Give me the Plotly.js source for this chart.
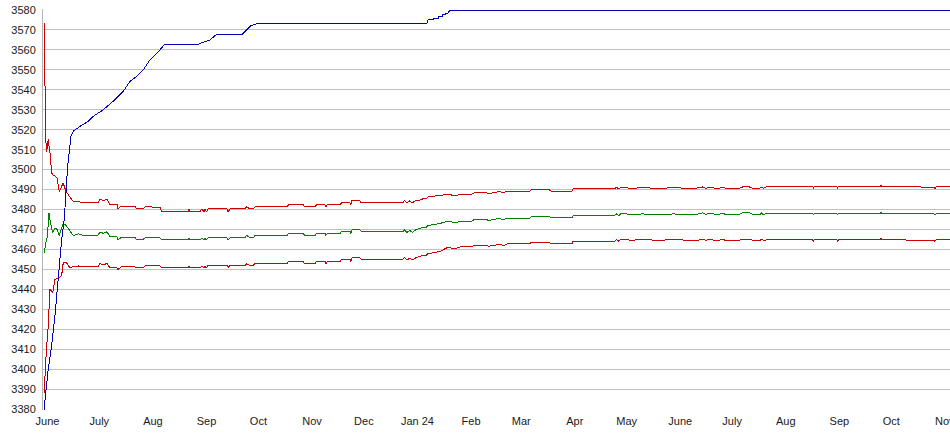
<!DOCTYPE html>
<html>
<head>
<meta charset="utf-8">
<script src="https://cdn.plot.ly/plotly-3.0.1.min.js"></script>
<style>
html,body{margin:0;padding:0;background:#fff;}
#chart{width:950px;height:435px;}
.scatterlayer .js-line{shape-rendering:crispEdges;}
</style>
</head>
<body>
<div id="chart"></div>
<script>
// Shared dates for the three band lines
var bandDates = [
"2023-05-30 02:00","2023-05-30 08:00","2023-05-31 00:00","2023-05-31 13:00","2023-06-01 03:00",
"2023-06-01 11:00","2023-06-01 21:00","2023-06-02 11:00","2023-06-03 10:00","2023-06-04 00:00",
"2023-06-05 08:00","2023-06-06 12:00","2023-06-07 20:00","2023-06-09 05:00","2023-06-10 03:00",
"2023-06-11 17:00","2023-06-14 00:00","2023-06-15 22:00","2023-06-18 19:00","2023-06-21 17:00",
"2023-06-30 05:00","2023-07-01 09:00","2023-07-03 07:00","2023-07-05 10:00","2023-07-07 03:00",
"2023-07-11 05:00","2023-07-11 19:00","2023-07-13 22:00","2023-07-21 14:00","2023-07-22 14:00",
"2023-07-26 05:00","2023-07-27 10:00","2023-08-05 00:00","2023-08-06 05:00","2023-08-21 07:00",
"2023-08-21 19:00","2023-08-22 10:00","2023-08-28 05:00","2023-08-29 09:00","2023-08-30 12:00",
"2023-08-31 03:00","2023-08-31 20:00","2023-09-02 00:00","2023-09-12 19:00","2023-09-13 12:00",
"2023-09-14 14:00","2023-09-23 05:00","2023-09-24 05:00","2023-09-26 02:00","2023-09-28 00:00",
"2023-09-29 00:00","2023-10-17 12:00","2023-10-18 12:00","2023-10-26 19:00","2023-10-27 19:00",
"2023-11-02 17:00","2023-11-03 17:00","2023-11-08 12:00","2023-11-09 00:00","2023-11-10 00:00",
"2023-11-17 05:00","2023-11-18 05:00","2023-11-23 00:00","2023-11-23 12:00","2023-11-24 03:00",
"2023-11-28 17:00","2023-11-29 12:00","2023-12-23 14:00","2023-12-24 12:00","2023-12-26 00:00",
"2023-12-27 12:00","2023-12-29 00:00","2023-12-31 00:00","2024-01-02 00:00","2024-01-04 00:00",
"2024-01-06 00:00","2024-01-07 00:00","2024-01-14 00:00","2024-01-18 00:00","2024-01-20 00:00",
"2024-01-22 00:00","2024-01-26 00:00","2024-02-01 00:00","2024-02-03 00:00","2024-02-10 00:00",
"2024-02-11 00:00","2024-02-14 00:00","2024-02-17 00:00","2024-02-20 00:00","2024-02-22 00:00",
"2024-03-06 00:00","2024-03-07 00:00","2024-03-17 00:00","2024-03-18 12:00","2024-03-30 10:00",
"2024-03-31 00:00","2024-04-24 00:00","2024-04-25 00:00","2024-04-26 12:00","2024-04-27 12:00",
"2024-05-01 00:00","2024-05-03 00:00","2024-05-10 00:00","2024-05-20 00:00","2024-05-28 00:00",
"2024-06-05 00:00","2024-06-12 00:00","2024-06-14 00:00","2024-06-16 00:00","2024-06-18 00:00",
"2024-06-20 00:00","2024-06-23 00:00","2024-06-26 00:00","2024-06-27 00:00","2024-07-05 00:00",
"2024-07-07 00:00","2024-07-11 00:00","2024-07-13 00:00","2024-07-17 00:00","2024-07-18 00:00",
"2024-07-19 00:00","2024-07-21 00:00","2024-08-16 12:00","2024-08-17 00:00","2024-08-17 12:00",
"2024-08-30 12:00","2024-08-31 00:00","2024-08-31 12:00","2024-09-24 12:00","2024-09-25 02:00",
"2024-09-25 16:00","2024-10-03 00:00","2024-10-03 12:00","2024-10-25 18:00","2024-10-26 07:00",
"2024-10-27 00:00","2024-11-04 00:00"
];

var upperRed = [
3573.5,3545,3515,3509,3514, 3515.5,3512,3508.5,3498.3,3497.5,
3496.7,3496,3489,3491.5,3493.3, 3489,3486,3484,3484,3483.3,
3483.3,3485.3,3484.3,3485.3,3482.5, 3482.5,3480.5,3481.7,3481.7,3480.3,
3480.3,3481.3,3481.2,3478.8,3478.8, 3480.3,3478.8,3478.8,3480.3,3478.8,
3480.3,3478.8,3480.3,3480.3,3478.8, 3480.3,3480.3,3481.3,3480.3,3480.3,
3481.3,3481.3,3482.5,3482.5,3481.3, 3481.3,3482.5,3482.5,3481.3,3482.5,
3482.5,3483.3,3483.3,3482.5,3484.5, 3484.5,3483.3,3483.5,3484.5,3483.3,
3484.3,3483.3,3484.5,3484.5,3485.3, 3485.3,3486.3,3487.2,3487.5,3487.5,
3486.8,3487.5,3487.5,3488.3,3488.3, 3487.8,3488.3,3489,3488.5,3489.2,
3489.2,3490,3490,3489.2,3489.2, 3490.3,3490.3,3491.2,3490.3,3491,
3491,3490.5,3491,3490.5,3491, 3490.6,3490.8,3491.3,3490.6,3491.2,
3490.8,3490.6,3491.2,3490.6,3490.6, 3491.3,3491.3,3490.6,3490.6,3491.2,
3490.6,3491.5,3491.5,3490.8,3491.5, 3491.5,3490.8,3491.5,3491.5,3492.3,
3491.5,3491.5,3491.2,3491.2,3490.5, 3491.5,3491.5
];

var greenMid = [
3458,3460,3463,3465,3467.5, 3474,3478.3,3475,3470,3468.3,
3470.8,3470,3467,3470,3473, 3472,3469,3467,3467.8,3467,
3467,3468.8,3468,3468.8,3466.3, 3466.3,3465,3466,3466,3465,
3465,3465.8,3465.8,3464.8,3464.8, 3465.8,3464.8,3464.8,3465.8,3464.8,
3465.8,3464.8,3465.8,3465.8,3464.8, 3465.8,3465.8,3467,3465.8,3465.8,
3467,3467,3468,3468,3467, 3467,3468,3468,3467,3468,
3468,3469,3469,3468,3469.8, 3469.8,3469,3468.8,3469.8,3468.5,
3469.5,3468.5,3469.8,3470.3,3471, 3471,3472,3473,3474,3474,
3473.3,3474,3474,3475,3475, 3474.5,3475,3475.5,3475,3475.7,
3475.7,3476.7,3476.7,3475.8,3475.8, 3477,3477,3477.8,3477,3477.8,
3477.8,3477.3,3477.8,3477.3,3477.8, 3477.4,3477.8,3478.3,3477.5,3478.2,
3477.8,3477.5,3478.2,3477.5,3477.5, 3478.3,3478.3,3477.5,3477.5,3478.2,
3477.5,3478,3478,3477.4,3478, 3478,3477.4,3478,3478,3478.8,
3478,3478,3477.8,3477.8,3477.2, 3478,3478
];

var lowerRed = [
3388,3392,3408,3412,3416.7, 3424,3430,3440,3439,3438.3,
3445,3445.5,3445.8,3447,3453.3, 3453.7,3450.8,3451.3,3451.7,3451.3,
3451.3,3453,3452.2,3453,3450.8, 3450.8,3450,3451.3,3451.3,3450.8,
3450.8,3451.7,3451.7,3450.8,3450.8, 3451.7,3450.8,3450.8,3451.7,3450.8,
3451.7,3450.8,3452,3452,3451, 3452,3452,3452.8,3452,3452,
3452.8,3452.8,3454,3454,3452.8, 3452.8,3454,3454,3452.8,3454,
3454,3455,3455,3454,3455.8, 3455.8,3455,3455,3455.8,3454.7,
3455.6,3454.7,3455.8,3456.3,3457, 3457,3457.8,3459,3460.8,3460.8,
3460.2,3461.3,3461.3,3462,3462, 3461.5,3462,3462.5,3462,3462.8,
3462.8,3463.7,3463.7,3462.8,3462.8, 3464,3464,3465,3464,3465,
3465,3464.5,3465,3464.5,3465, 3464.6,3464.7,3465.2,3464.5,3465.1,
3464.7,3464.5,3465.1,3464.5,3464.5, 3465.2,3465.2,3464.5,3464.5,3465.1,
3464.5,3464.8,3464.8,3464.2,3464.8, 3464.8,3464.2,3464.8,3464.8,3465.6,
3464.8,3464.8,3464.6,3464.6,3464, 3464.8,3464.8
];

var blueDates = [
"2023-05-29 23:00","2023-05-30 03:00","2023-05-31 00:00","2023-06-01 11:00","2023-06-03 10:00",
"2023-06-05 08:00","2023-06-07 06:00","2023-06-09 05:00","2023-06-10 17:00","2023-06-11 03:00",
"2023-06-12 16:00","2023-06-14 14:00","2023-06-15 22:00","2023-06-19 19:00","2023-06-24 14:00",
"2023-06-27 12:00","2023-07-03 07:00","2023-07-10 00:00","2023-07-14 20:00","2023-07-18 17:00",
"2023-07-22 14:00","2023-07-26 10:00","2023-07-30 07:00","2023-08-05 00:00","2023-08-06 19:00",
"2023-08-07 12:00","2023-08-27 05:00","2023-08-28 05:00","2023-08-31 03:00","2023-09-03 00:00",
"2023-09-04 17:00","2023-09-06 12:00","2023-09-21 07:00","2023-09-22 14:00","2023-09-24 17:00",
"2023-09-26 17:00","2023-09-30 17:00","2024-01-06 12:00","2024-01-07 02:00","2024-01-10 00:00",
"2024-01-10 06:00","2024-01-12 22:00","2024-01-13 06:00","2024-01-15 05:00","2024-01-15 12:00",
"2024-01-16 22:00","2024-01-17 06:00","2024-01-18 17:00","2024-01-19 19:00","2024-11-04 00:00"
];
var blueVals = [
3379,3380,3388,3400,3411.7,
3426.7,3445.8,3465,3475,3480,
3501.7,3516.7,3519.2,3521.7,3524.2,
3526.7,3530,3535,3539.2,3544.2,
3546.7,3550,3555,3560,3561.7,
3562.5,3562.5,3563.3,3564.2,3565,
3566.3,3567.5,3567.5,3568.7,3570.3,
3572.2,3573.3,3573.3,3575,3575,
3575.8,3575.8,3576.7,3576.7,3577.5,
3577.5,3578.3,3578.5,3580,3580
];

var tickDates = ["2023-06-01","2023-07-01","2023-08-01","2023-09-01","2023-10-01","2023-11-01",
"2023-12-01","2024-01-01","2024-02-01","2024-03-01","2024-04-01","2024-05-01","2024-06-01",
"2024-07-01","2024-08-01","2024-09-01","2024-10-01","2024-11-01"];
var tickLabels = ["June","July","Aug","Sep","Oct","Nov","Dec","Jan 24","Feb","Mar","Apr","May",
"June","July","Aug","Sep","Oct","Nov"];
var yTicks = [3380,3390,3400,3410,3420,3430,3440,3450,3460,3470,3480,3490,3500,3510,3520,3530,3540,3550,3560,3570,3580];

var traces = [
  {x: bandDates, y: upperRed, mode:"lines", line:{color:"#cc0000", width:1}},
  {x: bandDates, y: greenMid, mode:"lines", line:{color:"#008000", width:1}},
  {x: bandDates, y: lowerRed, mode:"lines", line:{color:"#cc0000", width:1}},
  {x: blueDates, y: blueVals, mode:"lines", line:{color:"#0000b4", width:1}}
];

var layout = {
  width: 950, height: 435,
  margin: {l: 43, r: 0, t: 9, b: 25, pad: 0},
  paper_bgcolor: "#ffffff", plot_bgcolor: "#ffffff",
  showlegend: false,
  font: {family: "Liberation Sans, Arial, sans-serif", size: 11, color: "#1a1a1a"},
  xaxis: {
    type: "date",
    range: ["2023-05-29 10:00", "2024-11-04 00:00"],
    tickmode: "array", tickvals: tickDates, ticktext: tickLabels,
    showgrid: false, zeroline: false, showline: false, ticks: "",
    tickfont: {size: 11}, tickangle: 0,
    ticklabeloverflow: "allow", ticklabelstandoff: 3
  },
  yaxis: {
    range: [3379.5, 3580.5],
    tickmode: "array", tickvals: yTicks,
    showgrid: true, gridcolor: "#c0c0c0", gridwidth: 1,
    zeroline: false, showline: true, linecolor: "#b4b4b4", linewidth: 1,
    ticks: "", ticklabelstandoff: 4,
    tickfont: {size: 11}
  }
};

Plotly.newPlot("chart", traces, layout, {staticPlot: true, displayModeBar: false});
</script>
</body>
</html>
